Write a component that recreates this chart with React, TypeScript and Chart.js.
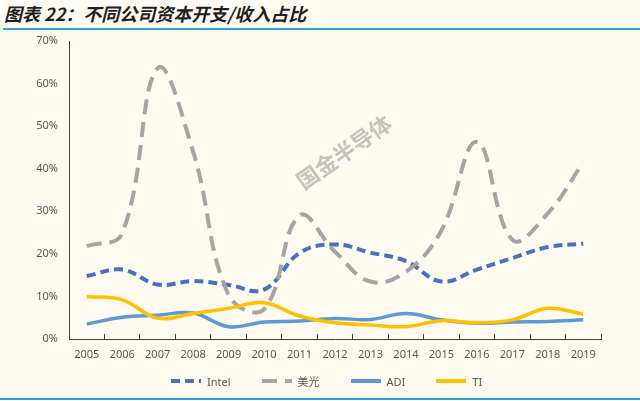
import { useEffect, useRef } from 'react';
import { Chart, registerables } from 'chart.js';

Chart.register(...registerables);

const years = ['2005', '2006', '2007', '2008', '2009', '2010', '2011', '2012', '2013', '2014', '2015', '2016', '2017', '2018', '2019'];
const intel = [14.8, 16.3, 12.8, 13.6, 12.7, 11.6, 20.2, 22.2, 20.3, 18.3, 13.5, 16.3, 19.0, 21.6, 22.4];
const micron = [21.8, 24.8, 63.6, 44.0, 10.3, 7.0, 29.0, 20.5, 13.5, 15.8, 25.5, 46.3, 23.3, 29.5, 41.5];
const adi = [3.5, 5.1, 5.6, 6.1, 2.9, 4.0, 4.2, 4.8, 4.6, 6.0, 4.5, 3.7, 4.0, 4.1, 4.5];
const ti = [10.0, 9.2, 4.9, 6.0, 7.2, 8.5, 5.4, 3.8, 3.3, 2.9, 4.3, 3.8, 4.5, 7.2, 5.8];
const yTicks = [0, 10, 20, 30, 40, 50, 60, 70];

const seriesNames = ['Intel', '美光', 'ADI', 'TI'];
const seriesColors = ['#4472c4', '#a5a5a5', '#5b9bd5', '#ffc000'];
const seriesDash = [[9, 5], [15, 8], [], []];

const FONT = '"Noto Sans", "Noto Sans CJK SC", sans-serif';

// watermark drawn behind the lines
const watermark = {
  id: 'watermark',
  beforeDatasetsDraw(chart: Chart) {
    const { ctx } = chart;
    ctx.save();
    ctx.translate(344, 152);
    ctx.rotate((-35 * Math.PI) / 180);
    ctx.font = 'bold 22px "Noto Sans CJK SC", sans-serif';
    ctx.fillStyle = 'rgba(150, 150, 150, 0.55)';
    ctx.textAlign = 'center';
    ctx.textBaseline = 'middle';
    ctx.fillText('国金半导体', 0, 0);
    ctx.restore();
  },
};

function Swatch({ color, dash }: { color: string; dash: number[] }) {
  return (
    <svg width={30} height={6} style={{ display: 'block' }}>
      <line x1={0} y1={3} x2={30} y2={3} stroke={color} strokeWidth={4}
        strokeDasharray={dash.length ? dash.join(' ') : undefined} />
    </svg>
  );
}

export default function App() {
  const chartRef = useRef<HTMLCanvasElement>(null);
  const chartInstance = useRef<Chart | null>(null);

  useEffect(() => {
    if (!chartRef.current) return;
    if (chartInstance.current) chartInstance.current.destroy();
    const ctx = chartRef.current.getContext('2d');
    if (!ctx) return;

    const values = [intel, micron, adi, ti];

    chartInstance.current = new Chart(ctx, {
      type: 'line',
      data: {
        labels: years,
        datasets: values.map((data, i) => ({
          label: seriesNames[i],
          data,
          borderColor: seriesColors[i],
          backgroundColor: seriesColors[i],
          borderWidth: i < 2 ? 4 : 3.5,
          borderDash: seriesDash[i],
          pointRadius: 0,
          tension: 0.4,
          fill: false,
          order: 4 - i,
        })),
      },
      options: {
        animation: false,
        responsive: false,
        maintainAspectRatio: false,
        layout: { padding: { top: 41, right: 39, bottom: 32, left: 0 } },
        plugins: {
          legend: { display: false },
          tooltip: { enabled: false },
        },
        scales: {
          x: {
            offset: true,
            grid: {
              display: true,
              offset: true,
              drawOnChartArea: false,
              drawTicks: true,
              tickLength: -5,
              color: '#404040',
            },
            border: { display: true, color: '#404040', width: 1 },
            ticks: {
              color: '#595959',
              font: { family: FONT, size: 11 },
              padding: 14,
              maxRotation: 0,
              autoSkip: false,
            },
            afterFit: (scale) => { scale.height = 30; },
          },
          y: {
            min: 0,
            max: 70,
            grid: { display: false, drawTicks: false },
            border: { display: true, color: '#404040', width: 1 },
            afterBuildTicks: (scale) => { scale.ticks = yTicks.map((v) => ({ value: v })); },
            ticks: {
              color: '#595959',
              font: { family: FONT, size: 11 },
              padding: 11,
              callback: (v) => `${v}%`,
            },
            afterFit: (scale) => { scale.width = 69; },
          },
        },
      },
      plugins: [watermark],
    });

    return () => {
      if (chartInstance.current) {
        chartInstance.current.destroy();
        chartInstance.current = null;
      }
    };
  }, []);

  return (
    <div style={{ position: 'fixed', left: 0, top: 0, width: 640, height: 401, background: '#fefaf0', overflow: 'hidden' }}>
      <div style={{
        position: 'absolute', left: 4, top: 1, fontFamily: '"Noto Sans CJK SC", sans-serif',
        fontWeight: 'bold', fontStyle: 'italic', fontSize: 18, color: '#1f1f1f', whiteSpace: 'nowrap', lineHeight: '24px',
      }}>
        图表 22：不同公司资本开支/收入占比
      </div>
      <div style={{ position: 'absolute', left: 3, right: 0, top: 28, height: 2, background: '#2e9fd9' }} />
      <canvas ref={chartRef} width={640} height={401} style={{ position: 'absolute', left: 0, top: 0 }} />
      <div style={{
        position: 'absolute', left: 171, top: 373, height: 16, display: 'flex', alignItems: 'center', gap: 31,
        fontFamily: FONT, fontSize: 11, color: '#595959',
      }}>
        {seriesNames.map((name, i) => (
          <div key={name} style={{ display: 'flex', alignItems: 'center', gap: 6 }}>
            <Swatch color={seriesColors[i]} dash={seriesDash[i]} />
            <span>{name}</span>
          </div>
        ))}
      </div>
      <div style={{ position: 'absolute', left: 0, right: 0, top: 398, height: 2, background: '#2e9fd9' }} />
    </div>
  );
}
